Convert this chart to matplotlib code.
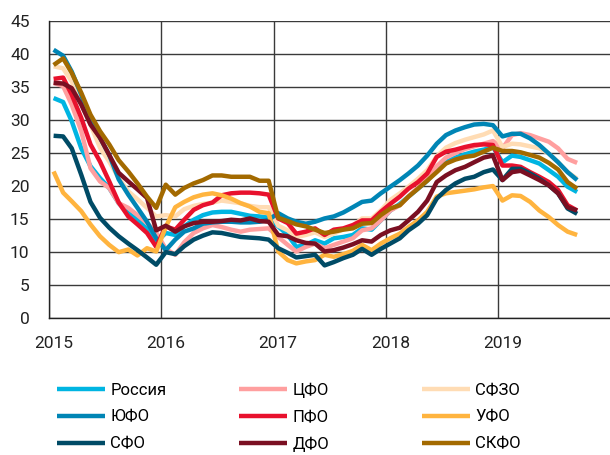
import numpy as np
import pandas as pd
import matplotlib
matplotlib.use('Agg')
import matplotlib.pyplot as plt
import matplotlib.dates as mdates

plt.rcParams['font.family'] = ['Roboto', 'DejaVu Sans']

# monthly data, Jan 2015 - Sep 2019
dates = pd.date_range('2015-01-01', '2019-09-01', freq='MS') + pd.Timedelta(days=15)

russia = [33.3, 32.7, 29.8, 25.7, 23.0, 21.2, 19.7, 17.4, 15.9, 14.9, 13.5, 11.5,
          12.9, 12.6, 13.9, 14.9, 15.6, 16.0, 16.1, 16.1, 15.8, 15.5, 15.4, 15.2,
          13.9, 12.6, 10.8, 11.1, 11.8, 11.3, 12.1, 12.3, 12.6, 13.6, 13.4, 14.8,
          16.3, 17.3, 18.4, 19.6, 20.8, 22.5, 23.6, 24.3, 24.8, 25.2, 25.5, 25.9,
          23.6, 24.6, 24.4, 23.9, 23.4, 22.4, 21.4, 19.9, 19.1]
cfo = [35.6, 35.1, 32.3, 28.3, 22.7, 20.7, 19.7, 17.4, 16.7, 15.6, 14.4, 13.0,
       10.5, 9.6, 11.5, 12.9, 13.6, 14.1, 13.8, 13.4, 13.1, 13.4, 13.5, 13.6,
       12.3, 11.1, 10.1, 10.8, 11.3, 10.6, 11.1, 11.6, 12.1, 13.3, 13.6, 14.8,
       16.3, 17.1, 18.4, 19.8, 21.0, 23.0, 24.3, 25.0, 25.6, 26.0, 26.4, 26.8,
       25.7, 27.7, 28.0, 27.7, 27.2, 26.7, 25.7, 24.1, 23.5]
szfo = [38.1, 37.8, 35.8, 32.5, 29.3, 25.8, 23.7, 21.2, 19.2, 18.0, 16.7, 15.4,
        15.6, 15.4, 16.5, 17.0, 17.3, 17.5, 17.8, 17.6, 17.4, 17.0, 16.8, 16.8,
        14.0, 13.3, 12.3, 12.6, 13.0, 12.3, 12.8, 13.5, 14.0, 15.1, 15.1, 16.3,
        17.9, 18.9, 19.9, 21.1, 22.4, 24.5, 25.8, 26.5, 27.0, 27.4, 27.8, 28.4,
        25.9, 26.4, 26.3, 26.0, 25.7, 24.9, 23.6, 22.1, 21.1]
yufo = [40.6, 39.7, 37.3, 33.8, 29.8, 27.3, 24.7, 21.0, 18.7, 16.7, 14.6, 12.1,
        10.3, 11.9, 13.1, 13.6, 14.3, 14.5, 14.6, 14.6, 14.5, 14.5, 14.6, 14.9,
        15.9, 15.1, 14.6, 14.3, 14.6, 15.1, 15.4, 16.0, 16.8, 17.6, 17.8, 18.9,
        19.9, 20.9, 21.9, 23.1, 24.6, 26.4, 27.7, 28.4, 28.9, 29.3, 29.4, 29.2,
        27.5, 27.9, 27.9, 27.2, 26.2, 24.9, 23.6, 22.1, 20.9]
pfo = [36.2, 36.4, 33.8, 30.3, 26.3, 23.7, 20.7, 17.5, 15.4, 14.2, 12.9, 10.8,
       13.9, 13.4, 14.9, 16.4, 17.1, 17.5, 18.6, 18.9, 19.0, 19.0, 18.9, 18.7,
       15.1, 14.4, 12.8, 13.1, 13.6, 12.6, 13.4, 13.6, 14.1, 14.8, 14.8, 16.1,
       17.3, 18.4, 19.6, 20.6, 21.9, 24.4, 25.2, 25.5, 25.9, 26.2, 26.3, 26.2,
       23.1, 23.1, 22.9, 22.1, 21.4, 20.6, 19.4, 17.1, 16.3]
ufo = [22.2, 19.0, 17.7, 16.2, 14.2, 12.4, 11.1, 10.0, 10.4, 9.5, 10.6, 10.1,
       13.8, 16.8, 17.6, 18.3, 18.7, 18.9, 18.6, 18.1, 17.4, 16.9, 16.1, 15.9,
       10.1, 8.8, 8.3, 8.6, 8.8, 9.6, 9.3, 9.7, 10.2, 11.1, 10.3, 11.3,
       12.1, 12.8, 13.8, 14.8, 16.1, 18.4, 18.9, 19.1, 19.3, 19.5, 19.8, 20.0,
       17.8, 18.6, 18.5, 17.6, 16.3, 15.3, 14.1, 13.1, 12.6]
sfo = [27.6, 27.5, 25.7, 21.7, 17.6, 15.2, 13.7, 12.4, 11.3, 10.3, 9.2, 8.1,
       10.0, 9.7, 10.9, 11.9, 12.5, 13.0, 12.9, 12.6, 12.3, 12.2, 12.1, 11.9,
       10.6, 9.9, 9.2, 9.4, 9.6, 8.0, 8.5, 9.1, 9.6, 10.5, 9.6, 10.5,
       11.3, 12.1, 13.3, 14.3, 15.6, 18.1, 19.4, 20.4, 21.1, 21.4, 22.1, 22.5,
       20.9, 22.6, 22.6, 21.9, 21.1, 20.1, 18.9, 16.6, 15.8]
dfo = [35.6, 35.5, 34.8, 32.3, 29.3, 27.3, 24.7, 22.0, 20.7, 19.5, 18.2, 13.3,
       14.0, 13.1, 13.9, 14.4, 14.6, 14.6, 14.7, 14.9, 14.8, 15.1, 14.7, 14.6,
       12.6, 12.4, 11.8, 11.4, 11.3, 10.1, 10.3, 10.7, 11.2, 11.8, 11.6, 12.6,
       13.3, 13.7, 14.8, 16.1, 17.8, 20.6, 21.6, 22.4, 22.9, 23.6, 24.3, 24.6,
       20.9, 22.1, 22.3, 21.6, 20.9, 20.1, 18.9, 16.8, 16.3]
skfo = [38.3, 39.3, 37.1, 34.1, 30.8, 28.3, 26.3, 23.9, 22.2, 20.4, 18.4, 16.7,
        20.2, 18.7, 19.7, 20.4, 20.9, 21.6, 21.6, 21.4, 21.4, 21.4, 20.8, 20.8,
        15.2, 14.7, 14.2, 13.9, 13.4, 12.9, 13.1, 13.4, 13.6, 14.3, 14.4, 15.6,
        16.6, 17.1, 18.4, 19.6, 20.8, 22.1, 23.4, 24.0, 24.4, 24.6, 25.2, 25.8,
        25.3, 25.3, 25.1, 24.7, 24.3, 23.5, 22.5, 20.6, 19.6]

names = ['Россия', 'ЦФО', 'СФЗО', 'ЮФО', 'ПФО', 'УФО', 'СФО', 'ДФО', 'СКФО']
series = [russia, cfo, szfo, yufo, pfo, ufo, sfo, dfo, skfo]
colors = ['#00b5e2', '#ff9f9f', '#ffdcb4', '#0085b5', '#e8112d', '#ffb43f',
          '#004b66', '#7a0f22', '#a36a00']

fig = plt.figure(figsize=(6.1, 4.55), dpi=100)
ax = fig.add_axes([49 / 610, 1 - 318.3 / 455, 1 - 49 / 610, (318.3 - 20.7) / 455])

lines = {}
for name, vals, c in zip(names, series, colors):
    lines[name], = ax.plot(dates, vals, color=c, lw=3.2, solid_capstyle='butt',
                           label=name)

ax.set_ylim(0, 45)
ax.set_yticks(range(0, 46, 5))
ax.set_xlim(pd.Timestamp('2015-01-01'), pd.Timestamp('2020-01-01'))

years = [pd.Timestamp(f'{y}-01-01') for y in range(2015, 2020)]
ax.set_xticks(years)
ax.set_xticklabels([])
ax.set_xticks([pd.Timestamp(f'{y}-01-16') for y in range(2015, 2020)], minor=True)
ax.set_xticklabels([str(y) for y in range(2015, 2020)], minor=True)

ax.grid(True, which='major', color='#3a3a3a', lw=1.0)
ax.set_axisbelow(True)
ax.tick_params(which='both', length=0, labelsize=12.5, labelcolor='#222222')
ax.tick_params(axis='y', pad=14)
ax.tick_params(axis='x', which='minor', pad=13)
for s in ['top', 'right']:
    ax.spines[s].set_visible(False)
for s in ['left', 'bottom']:
    ax.spines[s].set_color('#222222')
    ax.spines[s].set_linewidth(1.0)

cols = [['Россия', 'ЮФО', 'СФО'], ['ЦФО', 'ПФО', 'ДФО'], ['СФЗО', 'УФО', 'СКФО']]
xs = [57, 239, 422]
for xpos, col in zip(xs, cols):
    fig.legend([lines[n] for n in col], col, loc='upper left',
               bbox_to_anchor=(xpos / 610, 1 - 383 / 455), frameon=False,
               fontsize=12, handlelength=2.9, handletextpad=0.3,
               labelspacing=0.7, borderpad=0, borderaxespad=0)

fig.savefig('out.png', dpi=100)
